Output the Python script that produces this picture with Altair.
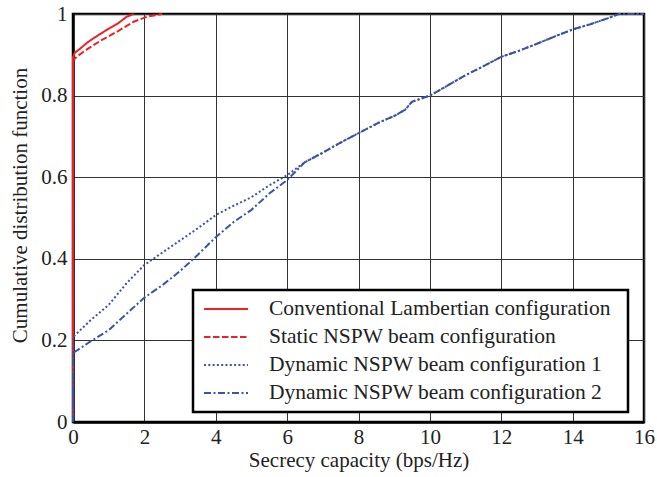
import altair as alt
import pandas as pd

series_names = [
    "Conventional Lambertian configuration",
    "Static NSPW beam configuration",
    "Dynamic NSPW beam configuration 1",
    "Dynamic NSPW beam configuration 2",
]

lam_x = [0, 0, 0.05, 0.2, 0.4, 0.6, 0.8, 1.0, 1.26, 1.5, 1.7]
lam_y = [0, 0.895, 0.905, 0.915, 0.93, 0.942, 0.953, 0.964, 0.977, 0.993, 1.0]

sta_x = [0, 0, 0.1, 0.4, 0.8, 1.26, 1.7, 2.1, 2.5]
sta_y = [0, 0.885, 0.895, 0.914, 0.936, 0.958, 0.981, 0.994, 1.0]

dyn1_x = [0, 0, 0.5, 1, 1.5, 2, 2.5, 3, 3.5, 4, 4.5, 5, 5.5, 6, 6.5, 7, 7.5, 8,
          8.6, 9.0, 9.3, 9.5, 10, 10.5, 11, 11.5, 12, 12.5, 13, 13.5, 14, 14.5, 15, 15.3, 16]
dyn1_y = [0, 0.208, 0.25, 0.287, 0.34, 0.385, 0.415, 0.445, 0.475, 0.507, 0.53, 0.551,
          0.58, 0.605, 0.637, 0.66, 0.685, 0.708, 0.735, 0.75, 0.765, 0.785, 0.80, 0.825, 0.85,
          0.872, 0.895, 0.91, 0.927, 0.945, 0.962, 0.975, 0.99, 1.0, 1.0]

dyn2_x = [0, 0, 0.5, 1, 1.5, 2, 2.5, 3, 3.5, 4, 4.5, 5, 5.5, 6, 6.5, 7, 7.5, 8,
          8.6, 9.0, 9.3, 9.5, 10, 10.5, 11, 11.5, 12, 12.5, 13, 13.5, 14, 14.5, 15, 15.3, 16]
dyn2_y = [0, 0.169, 0.198, 0.225, 0.265, 0.305, 0.335, 0.37, 0.41, 0.453, 0.49, 0.52,
          0.56, 0.593, 0.637, 0.66, 0.685, 0.708, 0.735, 0.75, 0.765, 0.785, 0.80, 0.825, 0.85,
          0.872, 0.895, 0.91, 0.927, 0.945, 0.962, 0.975, 0.99, 1.0, 1.0]

rows = []
for name, xs, ys in zip(series_names, [lam_x, sta_x, dyn1_x, dyn2_x], [lam_y, sta_y, dyn1_y, dyn2_y]):
    for i, (x, y) in enumerate(zip(xs, ys)):
        rows.append({"series": name, "x": x, "y": y, "order": i})
df = pd.DataFrame(rows)

colors = ["#ee2226", "#ee2226", "#3b54a4", "#3b54a4"]
dashes = [[1, 0], [6.5, 2.5], [2, 2.3], [7, 2.5, 2, 2.5]]

font = "Liberation Serif"
fs = 21

chart = alt.Chart(df).mark_line(strokeWidth=2).encode(
    x=alt.X("x:Q", scale=alt.Scale(domain=[0, 16], nice=False),
            axis=alt.Axis(title="Secrecy capacity (bps/Hz)", values=list(range(0, 17, 2)),
                          format="d")),
    y=alt.Y("y:Q", scale=alt.Scale(domain=[0, 1], nice=False),
            axis=alt.Axis(title="Cumulative distribution function",
                          values=[0, 0.2, 0.4, 0.6, 0.8, 1.0], titleY=191,
                          labelExpr="datum.value == 0 ? '0' : datum.value == 1 ? '1' : format(datum.value, '.1f')")),
    color=alt.Color("series:N", sort=series_names,
                    scale=alt.Scale(domain=series_names, range=colors),
                    legend=alt.Legend(title=" ", titleOrient="right", titlePadding=12,
                                      orient="none", legendX=120, legendY=276,
                                      symbolType="stroke", symbolSize=1936, symbolStrokeWidth=2,
                                      symbolOffset=5, clipHeight=28,
                                      labelFont=font, labelFontSize=21.5, labelColor="#222",
                                      labelOffset=20, rowPadding=0,
                                      strokeColor="black", fillColor="white",
                                      padding=5, labelLimit=600)),
    strokeDash=alt.StrokeDash("series:N", sort=series_names,
                              scale=alt.Scale(domain=series_names, range=dashes),
                              legend=None),
    order="order:Q",
).properties(
    width=571, height=408,
    padding={"left": 73, "top": 14, "right": 13, "bottom": 55},
    autosize=alt.AutoSizeParams(type="none"),
).configure(
    font=font
).configure_view(
    stroke="black", strokeWidth=2.5
).configure_legend(
    strokeWidth=2.5
).configure_axis(
    grid=True, gridColor="#333", gridOpacity=1, gridWidth=1,
    domainColor="black", domainWidth=2.5,
    tickColor="black", tickSize=0, labelFlush=False,
    labelFont=font, labelFontSize=fs, labelColor="#222",
    titleFont=font, titleFontSize=fs, titleFontWeight="normal", titleColor="#222",
).configure_axisY(titlePadding=10, labelPadding=6).configure_axisX(titlePadding=2, labelPadding=4)

chart.save("out.html", embed_options={"renderer": "svg", "actions": False})
